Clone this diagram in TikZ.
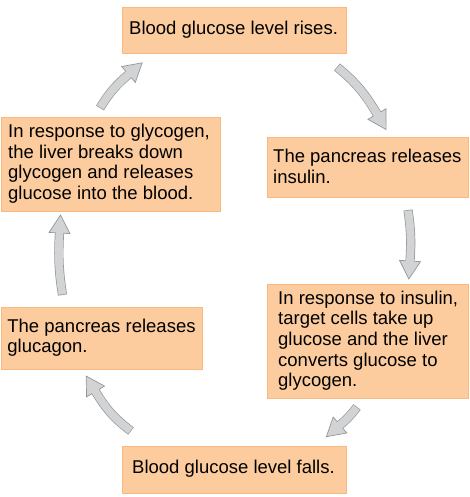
\documentclass[tikz,border=0pt]{standalone}
\usepackage{fontspec}
\setmainfont{Liberation Sans}
\usetikzlibrary{calc}
\definecolor{peach}{RGB}{252,204,158}
\definecolor{peachline}{RGB}{248,184,128}
\definecolor{afill}{RGB}{209,211,212}
\definecolor{aline}{RGB}{150,150,150}
\tikzset{
  box/.style={draw=peachline, fill=peach, line width=1.3pt, rectangle, inner sep=0pt, anchor=north west},
  txt/.style={anchor=west, align=left, inner sep=0pt, font=\fontsize{18.5}{20.7}\selectfont, text=black, yshift=1pt},
}
\newcommand{\garrow}[4]{%
  \coordinate (#1t) at #2;
  \coordinate (#1b) at #3;
  \coordinate (#1x) at ($(#1b)!-1!(#1t)$);
  \coordinate (#1p) at ($(#1b)!18pt!-#4:(#1x)$);
  \coordinate (#1l) at ($(#1b)!10.5pt!90-#4:(#1x)$);
  \coordinate (#1r) at ($(#1b)!10.5pt!-90-#4:(#1x)$);
  \draw[aline, line width=9.2pt] (#1t) to[bend left=#4] (#1b);
  \filldraw[fill=afill, draw=aline, line width=0.7pt, line join=miter] (#1l) -- (#1p) -- (#1r) -- cycle;
  \draw[afill, line width=7.8pt, shorten <=0.7pt, shorten >=-1.5pt] (#1t) to[bend left=#4] (#1b);
}
\begin{document}
\begin{tikzpicture}[x=1pt,y=-1pt]
\useasboundingbox (0,0) rectangle (469,497);

\node[box, minimum width=224pt, minimum height=46pt] (b1) at (122,7) {};
\node[txt] (t1) at ($(b1.west)+(7,0)$) {Blood glucose level rises.};

\node[box, minimum width=201pt, minimum height=60pt] (b2) at (267,137) {};
\node[txt] (t2) at ($(b2.west)+(6,0)$) {The pancreas releases\\insulin.};

\node[box, minimum width=201pt, minimum height=114pt] (b3) at (267,284) {};
\node[txt] (t3) at ($(b3.west)+(11,0)$) {In response to insulin,\\target cells take up\\glucose and the liver\\converts glucose to\\glycogen.};

\node[box, minimum width=224pt, minimum height=47pt] (b4) at (122,446) {};
\node[txt] (t4) at ($(b4.west)+(10,0)$) {Blood glucose level falls.};

\node[box, minimum width=201.3pt, minimum height=62pt] (b5) at (0.7,307) {};
\node[txt] (t5) at ($(b5.west)+(6.5,0)$) {The pancreas releases\\glucagon.};

\node[box, minimum width=219pt, minimum height=94pt] (b6) at (1,117) {};
\node[txt] (t6) at ($(b6.west)+(7,0)$) {In response to glycogen,\\the liver breaks down\\glycogen and releases\\glucose into the blood.};

\garrow{a1}{(337,67)}{(377,114)}{10}
\garrow{a2}{(408,210)}{(410,261)}{6}
\garrow{a3}{(357,407)}{(340,425)}{6}
\garrow{a4}{(131,431)}{(95.5,391.5)}{11}
\garrow{a5}{(62.5,295)}{(59.5,233)}{6}
\garrow{a6}{(100,108)}{(128.5,74.5)}{9}
\end{tikzpicture}
\end{document}
